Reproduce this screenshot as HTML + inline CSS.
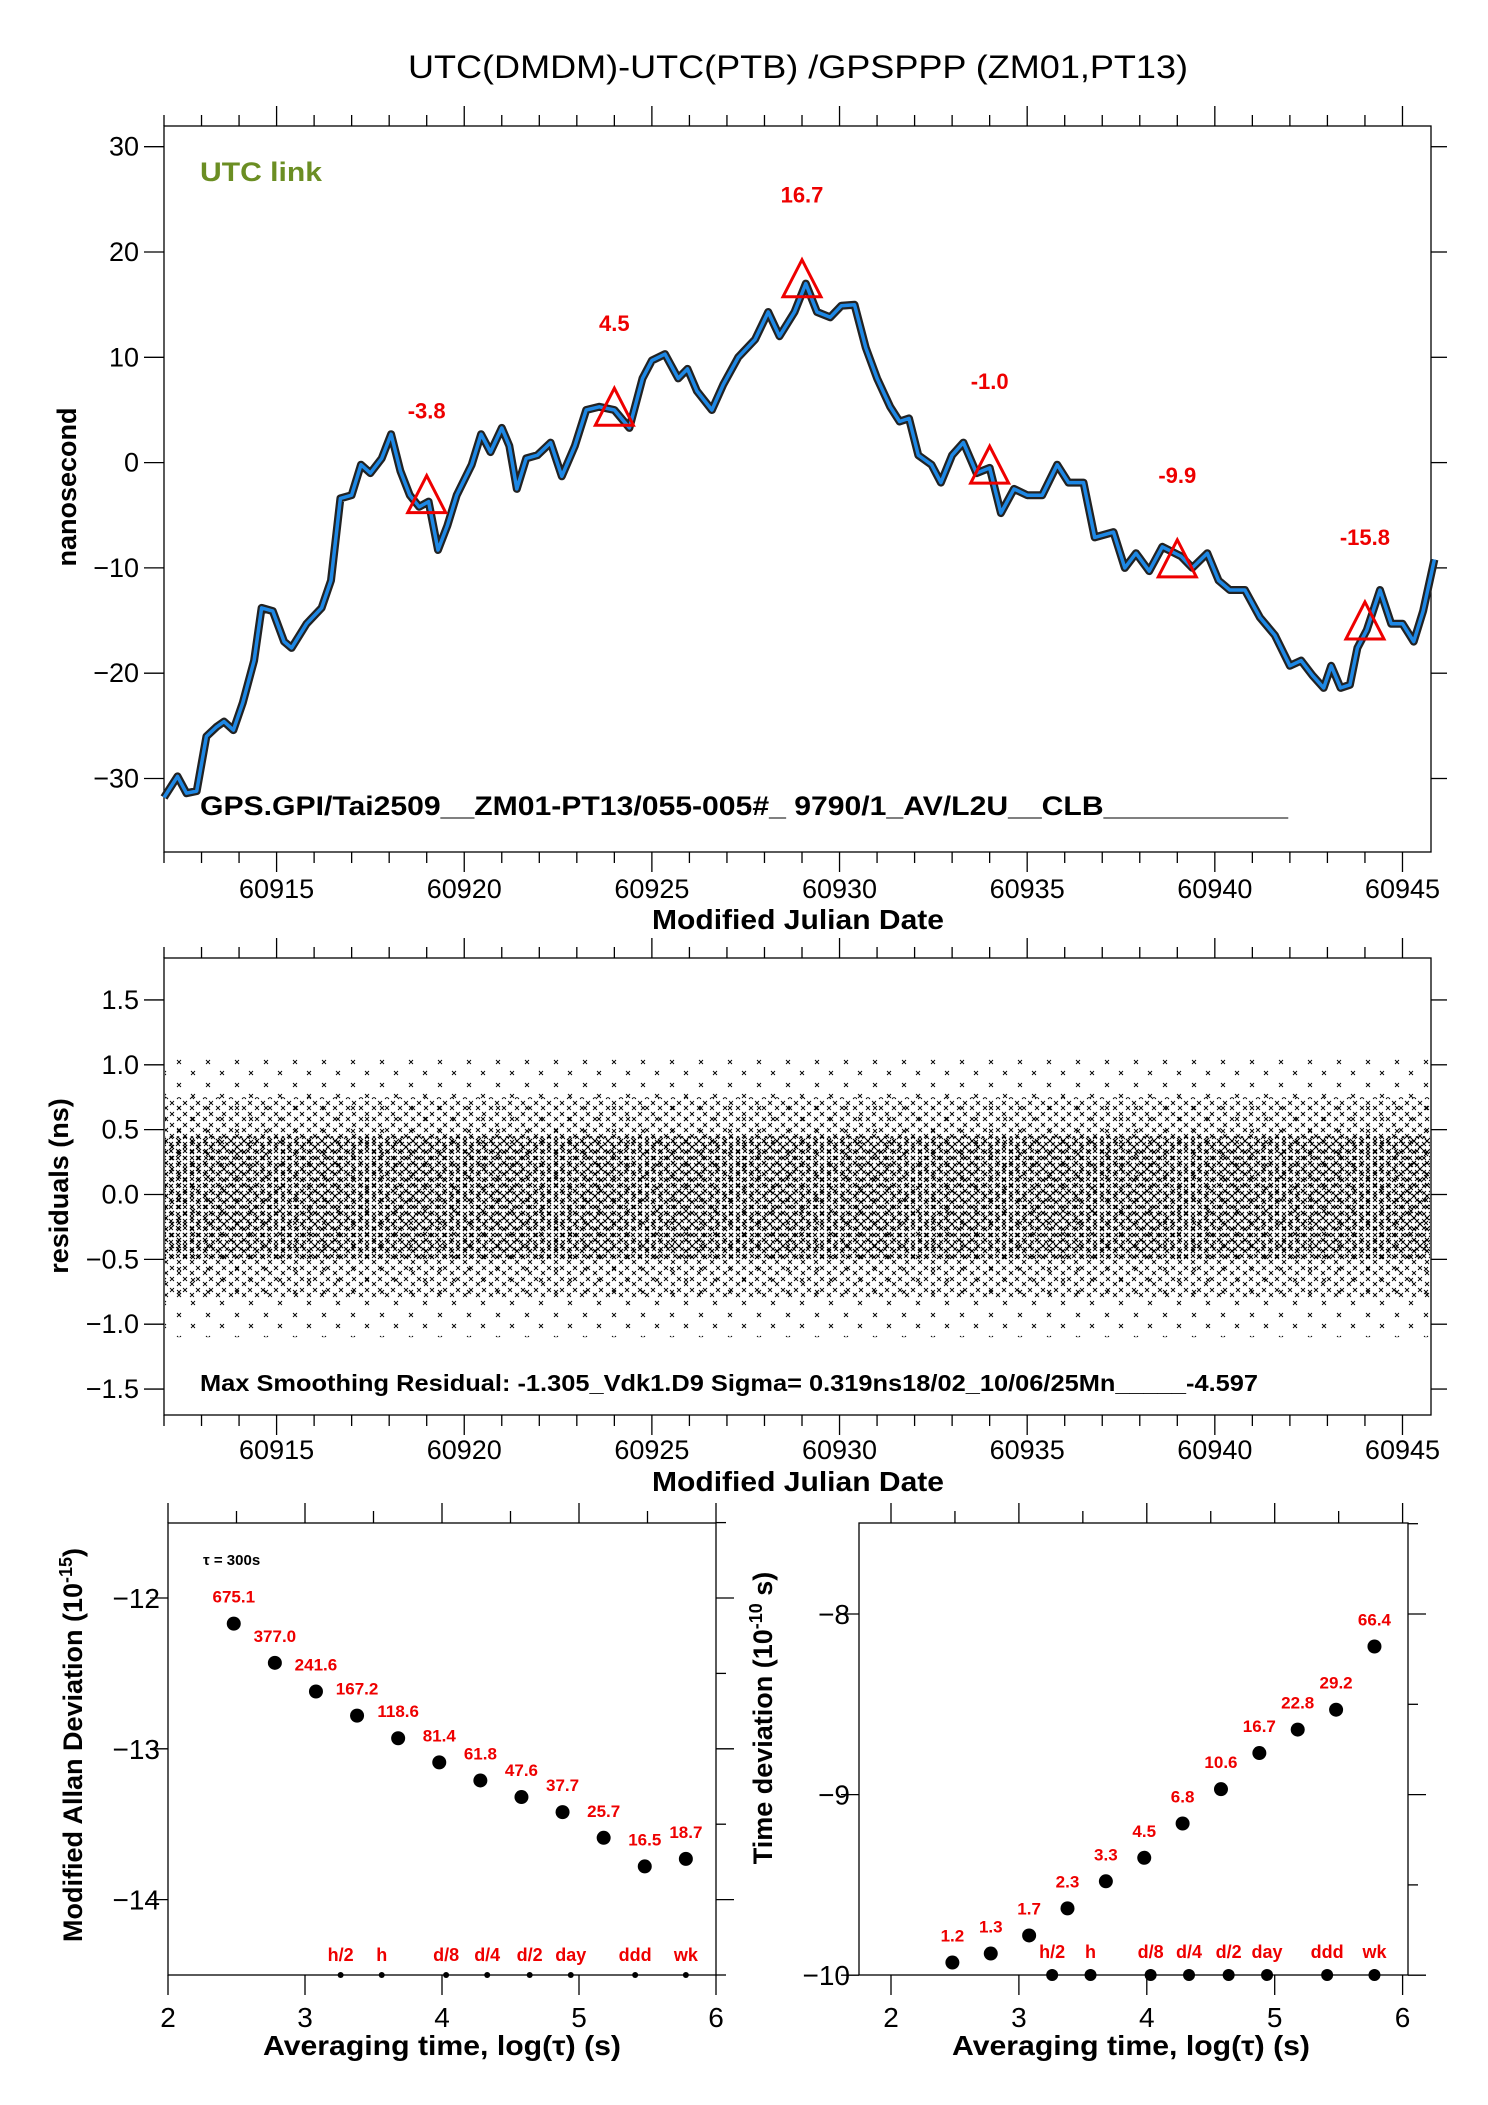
<!DOCTYPE html>
<html><head><meta charset="utf-8"><style>
html,body{margin:0;padding:0;background:#fff}
svg{display:block}
text{font-family:"Liberation Sans",sans-serif}
</style></head><body>
<svg id="s" width="1488" height="2105" viewBox="0 0 1488 2105" xmlns="http://www.w3.org/2000/svg">
<defs>
<pattern id="xd" width="7" height="7" patternUnits="userSpaceOnUse">
<path d="M1 1L5 5M5 1L1 5" stroke="#000" stroke-width="1"/>
</pattern>
<pattern id="xs" width="13" height="11" patternUnits="userSpaceOnUse">
<path d="M1 1L5 5M5 1L1 5M8 6L12 10M12 6L8 10" stroke="#000" stroke-width="0.9"/>
</pattern>
<pattern id="xv" width="29" height="23" patternUnits="userSpaceOnUse">
<path d="M3 2L7 6M7 2L3 6M17 13L21 17M21 13L17 17" stroke="#000" stroke-width="0.9"/>
</pattern>
</defs>
<g id="g"></g>
</svg>
<script>
// ---------- data ----------
const tsMjd = [60912.0,60912.36,60912.6,60912.87,60913.13,60913.4,60913.6,60913.85,60914.1,60914.4,60914.6,60914.9,60915.2,60915.4,60915.8,60916.2,60916.45,60916.7,60917.0,60917.25,60917.5,60917.8,60918.05,60918.3,60918.55,60918.8,60919.05,60919.3,60919.55,60919.8,60920.2,60920.45,60920.7,60921.0,60921.2,60921.4,60921.65,60921.95,60922.3,60922.6,60922.95,60923.25,60923.6,60924.0,60924.4,60924.75,60925.0,60925.35,60925.7,60925.95,60926.2,60926.6,60926.9,60927.3,60927.75,60928.1,60928.4,60928.8,60929.1,60929.4,60929.75,60930.05,60930.4,60930.7,60931.0,60931.35,60931.6,60931.85,60932.1,60932.45,60932.7,60933.0,60933.3,60933.65,60934.0,60934.3,60934.65,60935.0,60935.4,60935.8,60936.1,60936.5,60936.8,60937.3,60937.6,60937.9,60938.25,60938.6,60939.1,60939.4,60939.8,60940.1,60940.4,60940.8,60941.2,60941.6,60942.0,60942.3,60942.6,60942.9,60943.1,60943.35,60943.6,60943.8,60944.05,60944.4,60944.7,60945.0,60945.3,60945.55,60945.85];
const tsNs = [-31.8,-29.8,-31.4,-31.2,-26,-25.1,-24.6,-25.4,-22.8,-18.8,-13.8,-14.1,-17,-17.6,-15.3,-13.8,-11.2,-3.4,-3.1,-0.2,-1,0.4,2.7,-0.8,-3.1,-4.2,-3.7,-8.3,-6,-3.1,-0.2,2.7,1,3.3,1.6,-2.5,0.4,0.7,1.9,-1.3,1.6,5,5.3,5,3.3,8,9.7,10.3,8,8.9,6.8,5,7.4,10,11.7,14.3,12,14.3,17,14.3,13.8,14.9,15,10.9,8,5.3,3.9,4.2,0.7,-0.2,-1.9,0.7,1.9,-1,-0.5,-4.8,-2.5,-3.1,-3.1,-0.2,-1.9,-1.9,-7.1,-6.6,-10,-8.6,-10.3,-8,-8.9,-10,-8.6,-11.2,-12.1,-12.1,-14.7,-16.4,-19.3,-18.8,-20.2,-21.4,-19.3,-21.4,-21.1,-17.6,-15.9,-12.1,-15.3,-15.3,-17,-14.1,-9.2];
const triMjd = [60919,60924,60929,60934,60939,60944];
const triNs = [-3.8,4.5,16.7,-1.0,-9.9,-15.8];
const triLabels = ["-3.8","4.5","16.7","-1.0","-9.9","-15.8"];
const mjdTicks = [60915,60920,60925,60930,60935,60940,60945];
const nsTicks = [30,20,10,0,-10,-20,-30];
const resTicks = [1.5,1.0,0.5,0.0,-0.5,-1.0,-1.5];
const resTickLabels = ["1.5","1.0","0.5","0.0","\u22120.5","\u22121.0","\u22121.5"];
const resCore = [-0.5,0.45];
const resSpread = [-0.8,0.75];
const resOut = [-1.1,1.05];
const adevX = [2.48,2.78,3.08,3.38,3.68,3.98,4.28,4.58,4.88,5.18,5.48,5.78];
const adevY = [-12.17,-12.43,-12.62,-12.78,-12.93,-13.09,-13.21,-13.32,-13.42,-13.59,-13.78,-13.73];
const adevLabels = ["675.1","377.0","241.6","167.2","118.6","81.4","61.8","47.6","37.7","25.7","16.5","18.7"];
const tdevX = [2.48,2.78,3.08,3.38,3.68,3.98,4.28,4.58,4.88,5.18,5.48,5.78];
const tdevY = [-9.93,-9.88,-9.78,-9.63,-9.48,-9.35,-9.16,-8.97,-8.77,-8.64,-8.53,-8.18];
const tdevLabels = ["1.2","1.3","1.7","2.3","3.3","4.5","6.8","10.6","16.7","22.8","29.2","66.4"];
const markX = [3.26,3.56,4.03,4.33,4.64,4.94,5.41,5.78];
const markLabels = ["h/2","h","d/8","d/4","d/2","day","ddd","wk"];

// ---------- helpers ----------
const NS="http://www.w3.org/2000/svg";
const G=document.getElementById('g');
function el(tag,attrs,parent){const e=document.createElementNS(NS,tag);for(const k in attrs)e.setAttribute(k,attrs[k]);(parent||G).appendChild(e);return e;}
function txt(x,y,s,attrs,parent){const e=el('text',Object.assign({x:x,y:y},attrs),parent);e.textContent=s;return e;}

// ---------- top plot ----------
const T={l:164,r:1431,t:126,b:852};
const mx0=60912.0, mx1=60945.76;
function xM(v){return T.l+(v-mx0)/(mx1-mx0)*(T.r-T.l);}
function yN(v){return 462.6-v*10.53;}
const R={t:958,b:1415};
function yR(v){return 1194.5-v*129.7;}

function mjdFrame(top,bot,name){
  const f=el('rect',{x:T.l,y:top,width:T.r-T.l,height:bot-top,fill:'none',stroke:'#000','stroke-width':1.3});
  
  for(let d=60912;d<=60945;d++){
    const x=xM(d),maj=(d%5===0),L=maj?20:11;
    el('line',{x1:x,y1:top,x2:x,y2:top-L,stroke:'#000','stroke-width':1.3});
    el('line',{x1:x,y1:bot,x2:x,y2:bot+L,stroke:'#000','stroke-width':1.3});
  }
}
mjdFrame(T.t,T.b,'top-plot');
mjdFrame(R.t,R.b,'residual-plot');

nsTicks.forEach(v=>{
  const y=yN(v);
  el('line',{x1:T.l,y1:y,x2:T.l-20,y2:y,stroke:'#000','stroke-width':1.3});
  el('line',{x1:T.r,y1:y,x2:T.r+16,y2:y,stroke:'#000','stroke-width':1.3});
  const t=txt(139,y+9,(v<0?'\u2212':'')+Math.abs(v),{'font-size':27,'text-anchor':'end'});
  
});
mjdTicks.forEach(v=>{
  const t=txt(xM(v),898,String(v),{'font-size':27,'text-anchor':'middle'});
  
  const t2=txt(xM(v),1459,String(v),{'font-size':27,'text-anchor':'middle'});
  
});

let pts=tsMjd.map((m,i)=>xM(m).toFixed(1)+','+yN(tsNs[i]).toFixed(1)).join(' ');
const noise=el('polyline',{points:pts,fill:'none',stroke:'#222','stroke-width':8,'stroke-linejoin':'round'});

const line=el('polyline',{points:pts,fill:'none',stroke:'#1e88e5','stroke-width':3.5,'stroke-linejoin':'round'});


triMjd.forEach((m,i)=>{
  const x=xM(m),y=yN(triNs[i]);
  const p=el('polygon',{points:`${x},${y-27} ${x-19},${y+10} ${x+19},${y+10}`,fill:'none',stroke:'#ee0000','stroke-width':3});
  
  const t=txt(x,y-84,triLabels[i],{'font-size':22,'font-weight':'bold',fill:'#ee0000','text-anchor':'middle'});
  
});

function band(a,fill,name){
  const r=el('rect',{x:T.l+1,y:yR(a[1]),width:T.r-T.l-2,height:yR(a[0])-yR(a[1]),fill:fill});
  
}
band(resOut,'url(#xv)','residual-outliers');
band(resSpread,'url(#xs)','residual-spread');
band(resCore,'url(#xd)','residual-core');
band(resCore,'url(#xs)','residual-core-2');
resTicks.forEach((v,i)=>{
  const y=yR(v);
  el('line',{x1:T.l,y1:y,x2:T.l-20,y2:y,stroke:'#000','stroke-width':1.3});
  el('line',{x1:T.r,y1:y,x2:T.r+16,y2:y,stroke:'#000','stroke-width':1.3});
  const t=txt(139,y+9,resTickLabels[i],{'font-size':27,'text-anchor':'end'});
  
});

// ---------- bottom ----------
const A={l:168,r:716,t:1523,b:1975};
function xA(v){return A.l+(v-2)*(A.r-A.l)/4;}
function yA(v){return 1598-(v+12)*150.8;}
const B={l:859,r:1408,t:1523,b:1975};
function xB(v){return 891+(v-2)*127.9;}
function yB(v){return 1614-(v+8)*180.6;}

function smallFrame(F,xf,name,yt,yf,labX){
  const f=el('rect',{x:F.l,y:F.t,width:F.r-F.l,height:F.b-F.t,fill:'none',stroke:'#000','stroke-width':1.3});
  
  for(let v=2;v<=6.001;v+=0.5){
    const x=xf(v);if(x<F.l-1||x>F.r+1)continue;
    const maj=Math.abs(v-Math.round(v))<0.01;
    el('line',{x1:x,y1:F.t,x2:x,y2:F.t-(maj?20:12),stroke:'#000','stroke-width':1.3});
    if(maj){el('line',{x1:x,y1:F.b,x2:x,y2:F.b+20,stroke:'#000','stroke-width':1.3});
      const t=txt(x,2027,String(Math.round(v)),{'font-size':28,'text-anchor':'middle'});
      }
  }
  for(let v=yt[0];v>=yt[1]-0.001;v-=0.5){
    const y=yf(v);if(y<F.t-1||y>F.b+1)continue;
    const maj=Math.abs(v-Math.round(v))<0.01;
    el('line',{x1:F.r,y1:y,x2:F.r+(maj?18:10),y2:y,stroke:'#000','stroke-width':1.3});
    if(maj){el('line',{x1:F.l,y1:y,x2:F.l-18,y2:y,stroke:'#000','stroke-width':1.3});
      const t=txt(labX,y+10,'\u2212'+Math.abs(Math.round(v)),{'font-size':28,'text-anchor':'end'});
      }
  }
}
smallFrame(A,xA,'adev-plot',[-11.5,-14.5],yA,160);
smallFrame(B,xB,'tdev-plot',[-7.5,-10],yB,850);

adevX.forEach((x,i)=>{
  const c=el('circle',{cx:xA(x),cy:yA(adevY[i]),r:7,fill:'#000'});
  
  const t=txt(xA(x),yA(adevY[i])-21,adevLabels[i],{'font-size':17,'font-weight':'bold',fill:'#ee0000','text-anchor':'middle'});
  
});
tdevX.forEach((x,i)=>{
  const c=el('circle',{cx:xB(x),cy:yB(tdevY[i]),r:7,fill:'#000'});
  
  const t=txt(xB(x),yB(tdevY[i])-21,tdevLabels[i],{'font-size':17,'font-weight':'bold',fill:'#ee0000','text-anchor':'middle'});
  
});
markX.forEach((x,i)=>{
  const c=el('circle',{cx:xA(x),cy:A.b,r:3,fill:'#000'});
  
  const t=txt(xA(x),1961,markLabels[i],{'font-size':18,'font-weight':'bold',fill:'#ee0000','text-anchor':'middle'});
  
  const c2=el('circle',{cx:xB(x),cy:B.b,r:6,fill:'#000'});
  
  const t2=txt(xB(x),1958,markLabels[i],{'font-size':18,'font-weight':'bold',fill:'#ee0000','text-anchor':'middle'});
  
});
</script>
<svg style="position:absolute;left:0;top:0" width="1488" height="2105">
<text x="408" y="78" font-size="32" textLength="780" lengthAdjust="spacingAndGlyphs">UTC(DMDM)-UTC(PTB)  /GPSPPP  (ZM01,PT13)</text>
<text x="200" y="181" font-size="27" font-weight="bold" fill="#6b8e23" textLength="122" lengthAdjust="spacingAndGlyphs">UTC link</text>
<text x="200" y="815" font-size="27" font-weight="bold" textLength="1088" lengthAdjust="spacingAndGlyphs">GPS.GPI/Tai2509__ZM01-PT13/055-005#_  9790/1_AV/L2U__CLB___________</text>
<text transform="translate(76,487) rotate(-90)" text-anchor="middle" font-size="27" font-weight="bold">nanosecond</text>
<text x="798" y="929" text-anchor="middle" font-size="28" font-weight="bold" textLength="292" lengthAdjust="spacingAndGlyphs">Modified Julian Date</text>
<text transform="translate(68,1186) rotate(-90)" text-anchor="middle" font-size="27" font-weight="bold">residuals (ns)</text>
<text x="200" y="1391" font-size="23" font-weight="bold" textLength="1058" lengthAdjust="spacingAndGlyphs">Max Smoothing Residual: -1.305_Vdk1.D9  Sigma= 0.319ns18/02_10/06/25Mn_____-4.597</text>
<text x="798" y="1491" text-anchor="middle" font-size="28" font-weight="bold" textLength="292" lengthAdjust="spacingAndGlyphs">Modified Julian Date</text>
<text x="203" y="1565" font-size="15" font-weight="bold">τ = 300s</text>
<text transform="translate(82,1745) rotate(-90)" text-anchor="middle" font-size="27" font-weight="bold">Modified Allan Deviation (10<tspan dy="-10" font-size="18">-15</tspan><tspan dy="10">)</tspan></text>
<text transform="translate(772,1718) rotate(-90)" text-anchor="middle" font-size="27" font-weight="bold">Time deviation (10<tspan dy="-10" font-size="18">-10</tspan><tspan dy="10"> s)</tspan></text>
<text x="442" y="2055" text-anchor="middle" font-size="28" font-weight="bold" textLength="358" lengthAdjust="spacingAndGlyphs">Averaging time, log(τ) (s)</text>
<text x="1131" y="2055" text-anchor="middle" font-size="28" font-weight="bold" textLength="358" lengthAdjust="spacingAndGlyphs">Averaging time, log(τ) (s)</text>
</svg>
</body></html>
